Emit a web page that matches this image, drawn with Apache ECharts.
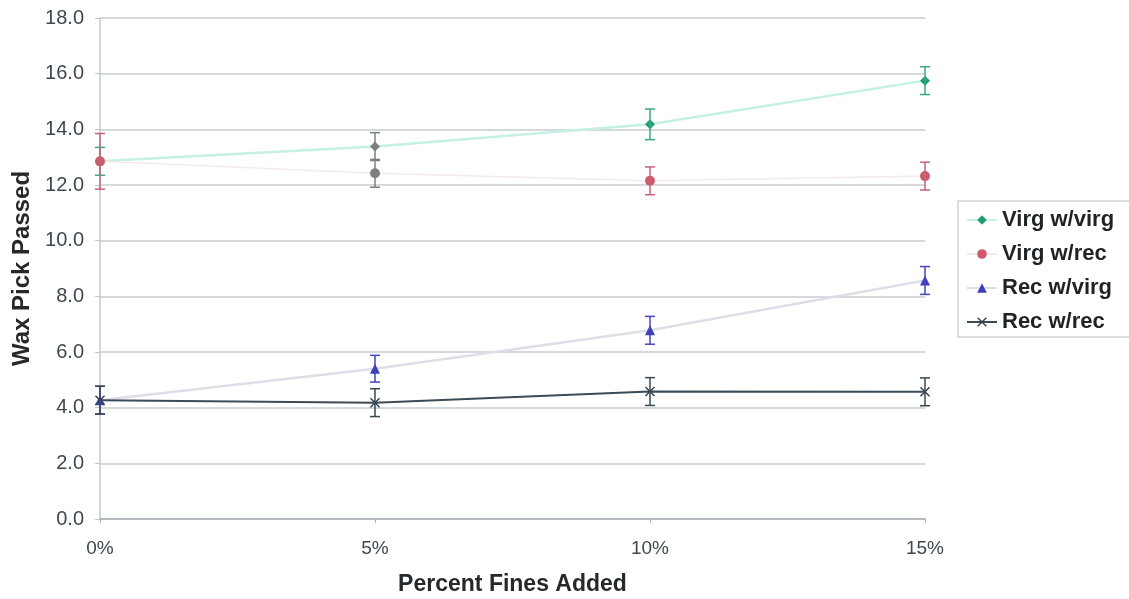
<!DOCTYPE html>
<html>
<head>
<meta charset="utf-8">
<script src="https://cdn.jsdelivr.net/npm/echarts@6/dist/echarts.min.js"></script>
<style>
  html, body { margin: 0; padding: 0; background: #ffffff; }
  #chart { width: 1129px; height: 599px; }
</style>
</head>
<body>
<div id="chart"></div>
<script>
// Percent fines added (x positions)
const fines = [0, 5, 10, 15];
const yTicks = [0, 2, 4, 6, 8, 10, 12, 14, 16, 18];

// Mean wax pick passed per blend
const virgVirg = [12.85, 13.38, 14.18, 15.75];
const virgRec  = [12.85, 12.42, 12.15, 12.32];
const recVirg  = [4.27, 5.40, 6.78, 8.57];
const recRec   = [4.27, 4.18, 4.58, 4.57];

// Half-width of each error bar
const errVirgVirg = [0.5, 0.5, 0.55, 0.5];
const errVirgRec  = [1.0, 0.5, 0.5, 0.5];
const errRecVirg  = [0.5, 0.48, 0.5, 0.5];
const errRecRec   = [0.5, 0.5, 0.5, 0.5];

const FONT = '"Liberation Sans", Arial, sans-serif';
const GREY_POINT = '#7d7f80';

// points on the 5% column of the virgin-binder series are drawn in grey
function pairs(vals, greyIndex) {
  return fines.map((x, i) => i === greyIndex
    ? { value: [x, vals[i]], itemStyle: { color: GREY_POINT } }
    : [x, vals[i]]);
}
function bars(vals, errs) { return fines.map((x, i) => [x, vals[i] - errs[i], vals[i] + errs[i]]); }

function errorSeries(name, vals, errs, color, greyIndex) {
  return {
    name: name,
    type: 'custom',
    z: 3,
    silent: true,
    data: bars(vals, errs),
    encode: { x: 0, y: [1, 2] },
    renderItem: function (params, api) {
      const lo = api.coord([api.value(0), api.value(1)]);
      const hi = api.coord([api.value(0), api.value(2)]);
      const cap = 5;
      const c = params.dataIndex === greyIndex ? GREY_POINT : color;
      const style = { stroke: c, lineWidth: 1.5 };
      return {
        type: 'group',
        children: [
          { type: 'line', shape: { x1: lo[0], y1: lo[1], x2: hi[0], y2: hi[1] }, style: style },
          { type: 'line', shape: { x1: hi[0] - cap, y1: hi[1], x2: hi[0] + cap, y2: hi[1] }, style: style },
          { type: 'line', shape: { x1: lo[0] - cap, y1: lo[1], x2: lo[0] + cap, y2: lo[1] }, style: style }
        ]
      };
    }
  };
}

const crossSymbol = 'path://M0,1L1,0L5,4L9,0L10,1L6,5L10,9L9,10L5,6L1,10L0,9L4,5Z';

const chart = echarts.init(document.getElementById('chart'));
chart.setOption({
  animation: false,
  backgroundColor: '#ffffff',
  grid: { left: 100, right: 204, top: 18, bottom: 80, containLabel: false, outerBoundsMode: 'none' },
  xAxis: {
    type: 'value',
    min: 0, max: 15, interval: 5,
    name: 'Percent Fines Added',
    nameLocation: 'middle',
    nameGap: 54,
    nameTextStyle: { fontFamily: FONT, fontSize: 23, fontWeight: 'bold', color: '#26292b' },
    axisLine: { show: true, lineStyle: { color: '#a9b3b6', width: 1.5 } },
    axisTick: { show: true, length: 4, lineStyle: { color: '#a9b3b6' } },
    axisLabel: { formatter: '{value}%', fontFamily: FONT, fontSize: 19, color: '#3d4850', margin: 20 },
    splitLine: { show: false }
  },
  yAxis: {
    type: 'value',
    min: 0, max: 18, interval: 2,
    name: 'Wax Pick Passed',
    nameLocation: 'middle',
    nameRotate: 90,
    nameGap: 66,
    nameTextStyle: { fontFamily: FONT, fontSize: 24, fontWeight: 'bold', color: '#26292b' },
    axisLine: { show: true, lineStyle: { color: '#c2c8ca', width: 1.5 } },
    axisTick: { show: true, length: 5, lineStyle: { color: '#c2c8ca' } },
    axisLabel: {
      formatter: function (v) { return yTicks.indexOf(v) >= 0 ? v.toFixed(1) : ''; },
      fontFamily: FONT, fontSize: 20, color: '#3d4850', margin: 16
    },
    splitLine: { show: true, lineStyle: { color: '#c6cdcf', width: 1.5 } }
  },
  legend: {
    orient: 'vertical',
    left: 958, top: 201,
    width: 171,
    padding: [8, 30, 4, 8],
    itemWidth: 30, itemHeight: 12,
    itemGap: 12,
    backgroundColor: '#ffffff',
    borderColor: '#cfd4d6',
    borderWidth: 1.5,
    textStyle: { fontFamily: FONT, fontSize: 22, fontWeight: 'bold', color: '#1f2326' },
    data: ['Virg w/virg', 'Virg w/rec', 'Rec w/virg', 'Rec w/rec']
  },
  series: [
    {
      name: 'Virg w/virg', type: 'line', z: 2,
      data: pairs(virgVirg, 1),
      symbol: 'diamond', symbolSize: 10,
      itemStyle: { color: '#1e9e74' },
      lineStyle: { color: '#c4f0e6', width: 2.5 }
    },
    {
      name: 'Virg w/rec', type: 'line', z: 2,
      data: pairs(virgRec, 1),
      symbol: 'circle', symbolSize: 10,
      itemStyle: { color: '#cf5a6c' },
      lineStyle: { color: '#f4e9eb', width: 1.5 }
    },
    {
      name: 'Rec w/virg', type: 'line', z: 2,
      data: pairs(recVirg, -1),
      symbol: 'triangle', symbolSize: 10,
      itemStyle: { color: '#3d3dbd' },
      lineStyle: { color: '#dedee8', width: 2.5 }
    },
    {
      name: 'Rec w/rec', type: 'line', z: 2,
      data: pairs(recRec, -1),
      symbol: crossSymbol, symbolSize: 10,
      itemStyle: { color: '#2f3e48' },
      lineStyle: { color: '#3c4b55', width: 2 }
    },
    errorSeries('err-vv', virgVirg, errVirgVirg, '#3da882', 1),
    errorSeries('err-vr', virgRec, errVirgRec, '#c46476', 1),
    errorSeries('err-rv', recVirg, errRecVirg, '#4545c0', -1),
    errorSeries('err-rr', recRec, errRecRec, '#3a4852', -1)
  ]
});
</script>
</body>
</html>
